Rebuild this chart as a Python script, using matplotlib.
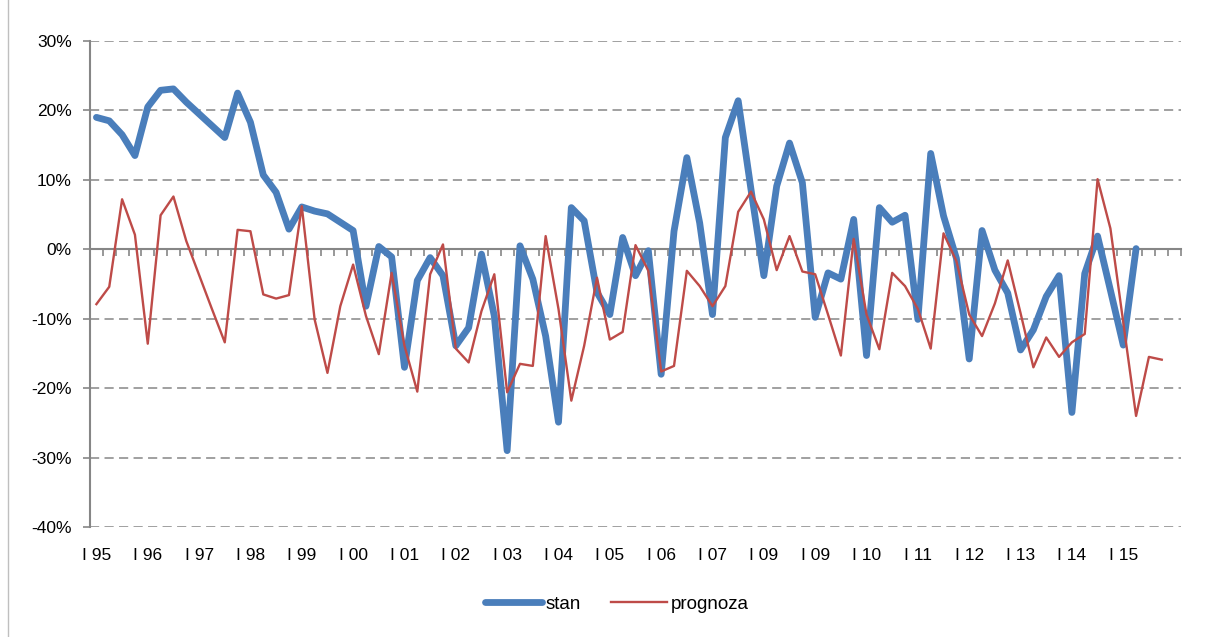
import matplotlib
matplotlib.use("Agg")
import matplotlib.pyplot as plt
from matplotlib.ticker import FixedLocator, FuncFormatter
from matplotlib.lines import Line2D

plt.rcParams['font.family'] = ['Liberation Sans', 'DejaVu Sans']

# quarterly y/y changes, in percent
stan = [19.0, 18.5, 16.5, 13.5, 20.5, 22.9, 23.1, 21.2, 19.5, 17.8,
        16.1, 22.5, 18.3, 10.7, 8.2, 2.9, 6.1, 5.5, 5.1, 3.9,
        2.7, -8.2, 0.4, -1.1, -17.0, -4.5, -1.2, -3.8, -13.9, -11.3,
        -0.7, -9.6, -29.0, 0.5, -4.3, -12.5, -24.9, 6.0, 4.1, -6.2,
        -9.4, 1.7, -3.8, -0.2, -18.0, 2.6, 13.2, 3.8, -9.4, 16.1,
        21.4, 8.6, -3.8, 9.1, 15.3, 9.6, -9.8, -3.4, -4.3, 4.3,
        -15.3, 6.0, 3.9, 4.9, -10.1, 13.8, 4.8, -1.3, -15.8, 2.7,
        -3.0, -6.3, -14.5, -11.6, -6.8, -3.8, -23.5, -3.5, 1.9, -5.9,
        -13.8, 0.1]

prognoza = [-7.9, -5.4, 7.2, 2.1, -13.6, 4.9, 7.6, 1.2, -3.7, -8.6,
            -13.4, 2.8, 2.6, -6.5, -7.1, -6.6, 6.2, -10.1, -17.8, -8.2,
            -2.2, -9.6, -15.1, -3.4, -13.9, -20.5, -3.6, 0.7, -14.3, -16.3,
            -8.9, -3.6, -20.6, -16.5, -16.8, 1.9, -8.6, -21.8, -13.9, -4.1,
            -13.0, -11.9, 0.6, -3.1, -17.6, -16.8, -3.1, -5.3, -8.2, -5.3,
            5.4, 8.3, 4.3, -3.0, 1.9, -3.2, -3.6, -9.4, -15.3, 1.5,
            -9.4, -14.4, -3.4, -5.3, -8.6, -14.3, 2.3, -1.7, -9.4, -12.5,
            -7.8, -1.6, -9.2, -17.0, -12.7, -15.5, -13.4, -12.2, 10.1, 3.0,
            -10.5, -24.0, -15.5, -15.9]

n_cat = 85
year_labels = ['I 95', 'I 96', 'I 97', 'I 98', 'I 99', 'I 00', 'I 01', 'I 02',
               'I 03', 'I 04', 'I 05', 'I 06', 'I 07', 'I 09', 'I 09', 'I 10',
               'I 11', 'I 12', 'I 13', 'I 14', 'I 15']

grid_col = '#868686'
blue = '#4A7EBB'
red = '#BE4B48'

fig = plt.figure(figsize=(12.08, 6.37), dpi=100)
ax = fig.add_axes([90 / 1208, 1 - 527 / 637, 1091 / 1208, 486 / 637])

ax.plot(range(len(stan)), stan, color=blue, lw=4.9, solid_joinstyle='round',
        solid_capstyle='round', zorder=3)
ax.plot(range(len(prognoza)), prognoza, color=red, lw=1.7, zorder=4)

ax.set_xlim(-0.5, n_cat - 0.5)
ax.set_ylim(-40, 30)

# dashed gridlines, solid zero line
for v in range(-40, 31, 10):
    if v != 0:
        ax.axhline(v, color=grid_col, lw=1.1, ls=(0, (6, 3.5)), zorder=1)

for s in ['top', 'right']:
    ax.spines[s].set_visible(False)
ax.spines['left'].set_color(grid_col)
ax.spines['left'].set_linewidth(1.5)
ax.spines['bottom'].set_position(('data', 0))
ax.spines['bottom'].set_color(grid_col)
ax.spines['bottom'].set_linewidth(1.5)

ax.yaxis.set_major_locator(FixedLocator(range(-40, 31, 10)))
ax.yaxis.set_major_formatter(FuncFormatter(lambda v, p: '%d%%' % v))
ax.tick_params(axis='y', direction='out', length=5, width=1.2, color=grid_col,
               labelsize=12.5, pad=8)

ax.xaxis.set_major_locator(FixedLocator([k - 0.5 for k in range(n_cat + 1)]))
ax.tick_params(axis='x', direction='out', length=5, width=1.2, color=grid_col,
               labelbottom=False)

for j, lab in enumerate(year_labels):
    ax.text(4 * j, -0.043, lab, transform=ax.get_xaxis_transform(),
            ha='center', va='top', fontsize=12.5)

handles = [Line2D([], [], color=blue, lw=4.9, solid_capstyle='round'),
           Line2D([], [], color=red, lw=1.7)]
fig.legend(handles, ['stan', 'prognoza'], loc='center', ncol=2,
           bbox_to_anchor=(617 / 1208, 1 - 604 / 637), frameon=False,
           fontsize=13.5, handlelength=3.0, handletextpad=0.2, columnspacing=1.6)

# chart area frame on the left
fig.add_artist(Line2D([8 / 1208, 8 / 1208], [0, 1], color='#BFBFBF', lw=1,
                      transform=fig.transFigure))

fig.savefig('out.png', dpi=100)
